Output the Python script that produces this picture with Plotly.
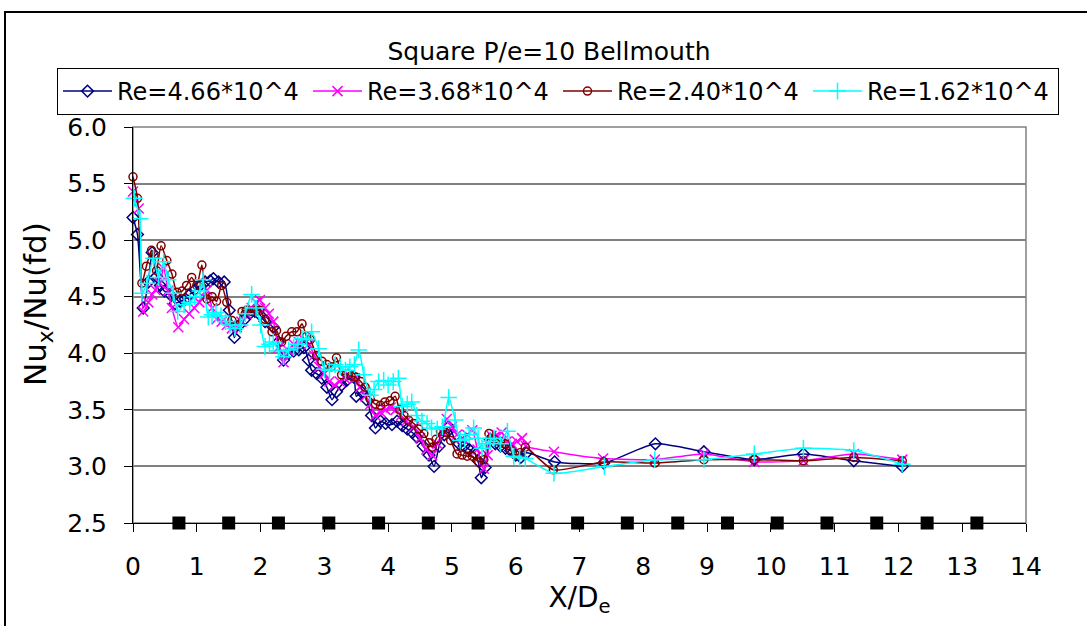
import plotly.graph_objects as go

# ---------------- data ----------------
x_re466 = [0.00, 0.07, 0.16, 0.24, 0.30, 0.37, 0.43, 0.49, 0.58, 0.66, 0.74, 0.82, 0.89, 0.97, 1.05,
           1.13, 1.21, 1.26, 1.34, 1.43, 1.51, 1.59, 1.67, 1.75, 1.83, 1.91, 1.99, 2.07, 2.20, 2.28,
           2.36, 2.44, 2.52, 2.60, 2.68, 2.75, 2.80, 2.88, 2.96, 3.04, 3.12, 3.19, 3.27, 3.35, 3.46,
           3.50, 3.58, 3.66, 3.74, 3.80, 3.88, 3.96, 4.06, 4.14, 4.22, 4.30, 4.38, 4.45, 4.55, 4.64,
           4.72, 4.80, 4.88, 4.95, 5.03, 5.11, 5.19, 5.27, 5.35, 5.41, 5.46, 5.52, 5.60, 5.68, 5.76,
           5.84, 5.92, 6.00, 6.08, 6.17, 6.61, 7.38, 8.19, 8.95, 9.74, 10.51, 11.30, 12.06]
y_re466 = [5.20, 5.05, 4.40, 4.63, 4.89, 4.68, 4.60, 4.55, 4.52, 4.44, 4.46, 4.48, 4.52, 4.56, 4.60,
           4.63, 4.64, 4.66, 4.63, 4.63, 4.38, 4.14, 4.25, 4.30, 4.35, 4.37, 4.34, 4.28, 4.23, 4.10,
           3.94, 4.00, 4.02, 4.03, 4.05, 3.94, 3.85, 3.82, 3.78, 3.70, 3.59, 3.66, 3.72, 3.76, 3.79,
           3.62, 3.66, 3.59, 3.45, 3.34, 3.40, 3.38, 3.37, 3.40, 3.36, 3.33, 3.30, 3.26, 3.18, 3.10,
           3.00, 3.18, 3.28, 3.35, 3.26, 3.20, 3.18, 3.15, 3.12, 3.05, 2.90, 2.99, 3.24, 3.20, 3.18,
           3.16, 3.14, 3.10, 3.08, 3.12, 3.04, 3.03, 3.20, 3.13, 3.06, 3.11, 3.05, 3.00]

x_re368 = [0.00, 0.09, 0.16, 0.24, 0.30, 0.35, 0.42, 0.48, 0.55, 0.61, 0.71, 0.80, 0.88, 0.96, 1.04,
           1.10, 1.16, 1.24, 1.31, 1.39, 1.47, 1.55, 1.63, 1.70, 1.78, 1.86, 1.93, 1.99, 2.07, 2.13,
           2.20, 2.28, 2.36, 2.44, 2.52, 2.60, 2.68, 2.76, 2.84, 2.92, 3.00, 3.08, 3.16, 3.24, 3.32,
           3.40, 3.48, 3.56, 3.64, 3.72, 3.80, 3.88, 3.96, 4.04, 4.12, 4.20, 4.28, 4.40, 4.50, 4.60,
           4.69, 4.77, 4.85, 4.92, 5.00, 5.08, 5.16, 5.24, 5.32, 5.40, 5.50, 5.56, 5.62, 5.70, 5.78,
           5.86, 5.94, 6.02, 6.10, 6.16, 6.60, 7.37, 8.18, 8.95, 9.74, 10.51, 11.30, 12.06]
y_re368 = [5.43, 5.28, 4.37, 4.45, 4.52, 4.56, 4.62, 4.75, 4.55, 4.40, 4.23, 4.30, 4.35, 4.40, 4.45,
           4.50, 4.56, 4.40, 4.30, 4.28, 4.25, 4.22, 4.23, 4.28, 4.35, 4.40, 4.45, 4.47, 4.40, 4.35,
           4.28, 4.05, 3.92, 4.02, 4.08, 4.10, 4.12, 4.08, 3.98, 3.88, 3.82, 3.75, 3.72, 3.75, 3.78,
           3.80, 3.78, 3.70, 3.62, 3.55, 3.45, 3.48, 3.50, 3.52, 3.50, 3.45, 3.40, 3.35, 3.25, 3.15,
           3.10, 3.20, 3.30, 3.42, 3.35, 3.28, 3.25, 3.28, 3.32, 3.15, 2.98, 3.10, 3.27, 3.28, 3.30,
           3.22, 3.20, 3.22, 3.25, 3.18, 3.13, 3.07, 3.06, 3.11, 3.04, 3.05, 3.11, 3.06]

x_re240 = [0.00, 0.07, 0.14, 0.21, 0.29, 0.33, 0.37, 0.44, 0.53, 0.61, 0.69, 0.77, 0.84, 0.92, 1.00,
           1.08, 1.16, 1.24, 1.31, 1.39, 1.47, 1.55, 1.63, 1.71, 1.78, 1.86, 1.93, 1.99, 2.07, 2.18,
           2.25, 2.33, 2.40, 2.49, 2.57, 2.65, 2.72, 2.78, 2.88, 2.96, 3.04, 3.11, 3.19, 3.27, 3.35,
           3.42, 3.49, 3.57, 3.64, 3.72, 3.80, 3.88, 3.95, 4.03, 4.11, 4.18, 4.25, 4.32, 4.40, 4.48,
           4.56, 4.64, 4.69, 4.75, 4.82, 4.90, 4.98, 5.08, 5.16, 5.24, 5.32, 5.42, 5.50, 5.58, 5.66,
           5.76, 5.84, 5.92, 6.00, 6.07, 6.15, 6.59, 7.38, 8.18, 8.95, 9.74, 10.51, 11.30, 12.06]
y_re240 = [5.56, 5.37, 4.62, 4.77, 4.91, 4.87, 4.73, 4.95, 4.82, 4.70, 4.54, 4.55, 4.60, 4.67, 4.60,
           4.78, 4.48, 4.50, 4.46, 4.60, 4.45, 4.29, 4.25, 4.37, 4.38, 4.37, 4.38, 4.38, 4.30, 4.19,
           4.20, 4.10, 4.15, 4.19, 4.19, 4.26, 4.15, 4.12, 3.98, 3.93, 3.90, 3.88, 3.96, 3.81, 3.82,
           3.80, 3.79, 3.75, 3.70, 3.60, 3.55, 3.54, 3.57, 3.58, 3.62, 3.50, 3.45, 3.41, 3.38, 3.33,
           3.29, 3.21, 3.17, 3.24, 3.31, 3.30, 3.23, 3.11, 3.10, 3.09, 3.09, 3.04, 3.06, 3.29, 3.24,
           3.22, 3.20, 3.15, 3.10, 3.12, 3.17, 2.97, 3.04, 3.03, 3.06, 3.06, 3.05, 3.08, 3.05]

x_re162 = [0.02, 0.11, 0.14, 0.22, 0.32, 0.40, 0.48, 0.55, 0.63, 0.70, 0.80, 0.89, 0.97, 1.05, 1.10,
           1.18, 1.24, 1.30, 1.38, 1.45, 1.52, 1.60, 1.68, 1.76, 1.86, 1.93, 2.00, 2.07, 2.14, 2.20,
           2.28, 2.36, 2.44, 2.52, 2.58, 2.65, 2.72, 2.80, 2.91, 3.00, 3.08, 3.17, 3.25, 3.33, 3.40,
           3.47, 3.54, 3.62, 3.72, 3.78, 3.85, 3.93, 4.00, 4.08, 4.16, 4.22, 4.30, 4.37, 4.45, 4.53,
           4.61, 4.68, 4.77, 4.85, 4.95, 5.05, 5.13, 5.20, 5.27, 5.34, 5.41, 5.47, 5.53, 5.60, 5.66,
           5.76, 5.87, 5.97, 6.06, 6.15, 6.60, 7.39, 8.18, 8.95, 9.74, 10.51, 11.30, 12.06]
y_re162 = [5.37, 5.19, 4.53, 4.62, 4.84, 4.67, 4.81, 4.65, 4.53, 4.37, 4.43, 4.45, 4.50, 4.55, 4.65,
           4.32, 4.34, 4.36, 4.33, 4.28, 4.25, 4.22, 4.25, 4.35, 4.52, 4.40, 4.25, 4.06, 4.08, 4.10,
           4.02, 3.97, 4.03, 4.05, 4.08, 4.13, 4.12, 4.19, 4.04, 3.86, 3.85, 3.90, 3.88, 3.85, 3.88,
           3.90, 4.03, 3.81, 3.63, 3.68, 3.75, 3.76, 3.72, 3.75, 3.78, 3.53, 3.55, 3.57, 3.45, 3.40,
           3.38, 3.34, 3.33, 3.35, 3.61, 3.41, 3.23, 3.24, 3.28, 3.34, 3.25, 3.16, 3.20, 3.22, 3.25,
           3.20, 3.31, 3.09, 3.08, 3.07, 2.94, 3.00, 3.06, 3.06, 3.11, 3.16, 3.14, 3.02]

rib_x = [0.72, 1.50, 2.28, 3.07, 3.85, 4.63, 5.41, 6.19, 6.97, 7.75, 8.54, 9.32, 10.10, 10.88,
         11.66, 12.45, 13.23]
rib_y = [2.5] * len(rib_x)

series_names = ["Re=4.66*10^4", "Re=3.68*10^4", "Re=2.40*10^4", "Re=1.62*10^4"]
title_text = "Square P/e=10 Bellmouth"
x_tick_vals = list(range(0, 15))
y_tick_vals = [2.5, 3.0, 3.5, 4.0, 4.5, 5.0, 5.5, 6.0]

# ---------------- figure ----------------
FONT = "DejaVu Sans"
W, H = 1087, 626
L, R, T, B = 133, 61, 127, 103
PW, PH = W - L - R, H - T - B

def px2paper_x(px):
    return (px - L) / PW

def px2paper_y(py):
    return (H - B - py) / PH

fig = go.Figure()

styles = [
    dict(color="#000080", symbol="diamond-open", size=9),
    dict(color="#FF00FF", symbol="x-thin-open", size=10),
    dict(color="#800000", symbol="circle-open", size=8),
    dict(color="#00FFFF", symbol="cross-thin-open", size=12),
]
data = [(x_re466, y_re466), (x_re368, y_re368), (x_re240, y_re240), (x_re162, y_re162)]

for (xs, ys), name, st in zip(data, series_names, styles):
    fig.add_trace(go.Scatter(
        x=xs, y=ys, name=name, mode="lines+markers",
        line=dict(color=st["color"], width=1.5, shape="spline", smoothing=0.6),
        marker=dict(symbol=st["symbol"], size=st["size"], color=st["color"],
                    line=dict(color=st["color"], width=1.5)),
        cliponaxis=False,
    ))

fig.add_trace(go.Scatter(
    x=rib_x, y=rib_y, mode="markers", showlegend=False,
    marker=dict(symbol="square", size=13, color="black"),
    cliponaxis=False,
))

fig.update_layout(
    width=W, height=H,
    margin=dict(l=L, r=R, t=T, b=B, pad=0),
    paper_bgcolor="white", plot_bgcolor="white",
    font=dict(family=FONT, size=24, color="black"),
    title=dict(text=title_text, x=549 / W, xref="container", xanchor="center",
               y=1 - 51 / H, yref="container", yanchor="middle",
               font=dict(family=FONT, size=25, color="black")),
    legend=dict(orientation="h", x=px2paper_x(57), y=px2paper_y(68),
                xanchor="left", yanchor="top",
                bordercolor="black", borderwidth=1, bgcolor="white",
                entrywidth=186, entrywidthmode="pixels",
                font=dict(family=FONT, size=24, color="black"),
                itemwidth=49),
    showlegend=True,
)

fig.update_xaxes(
    range=[0, 14], tickvals=x_tick_vals, ticks="outside", ticklen=8, tickwidth=1,
    tickcolor="black", showline=True, linecolor="black", linewidth=1,
    showgrid=False, zeroline=False, automargin=False,
    tickfont=dict(family=FONT, size=25), ticklabelstandoff=13,
    title=dict(text="X/D<sub>e</sub>", font=dict(family=FONT, size=28), standoff=0),
)
fig.update_yaxes(
    range=[2.5, 6.0], tickvals=y_tick_vals, tickformat=".1f", ticks="outside", ticklen=8,
    tickwidth=1, tickcolor="black", showline=True, linecolor="black", linewidth=1,
    showgrid=True, gridcolor="#808080", gridwidth=1.5, zeroline=False, automargin=False,
    tickfont=dict(family=FONT, size=25), ticklabelstandoff=12,
)

# y axis title as annotation (positioned like the reference)
fig.add_annotation(
    text="Nu<sub>x</sub>/Nu(fd)", xref="paper", yref="paper",
    x=px2paper_x(37), y=px2paper_y(304), xanchor="center", yanchor="middle",
    textangle=-90, showarrow=False, font=dict(family=FONT, size=31, color="black"),
)

# plot-area border (grey) and outer chart frame (black)
fig.add_shape(type="rect", xref="paper", yref="paper", x0=0, x1=1, y0=0, y1=1,
              line=dict(color="#808080", width=1.5), layer="below")
fig.add_shape(type="rect", xref="paper", yref="paper",
              x0=px2paper_x(5), x1=px2paper_x(1300), y0=px2paper_y(800), y1=px2paper_y(12),
              line=dict(color="black", width=2), fillcolor="rgba(0,0,0,0)", layer="below")

fig.write_html("out.html")
